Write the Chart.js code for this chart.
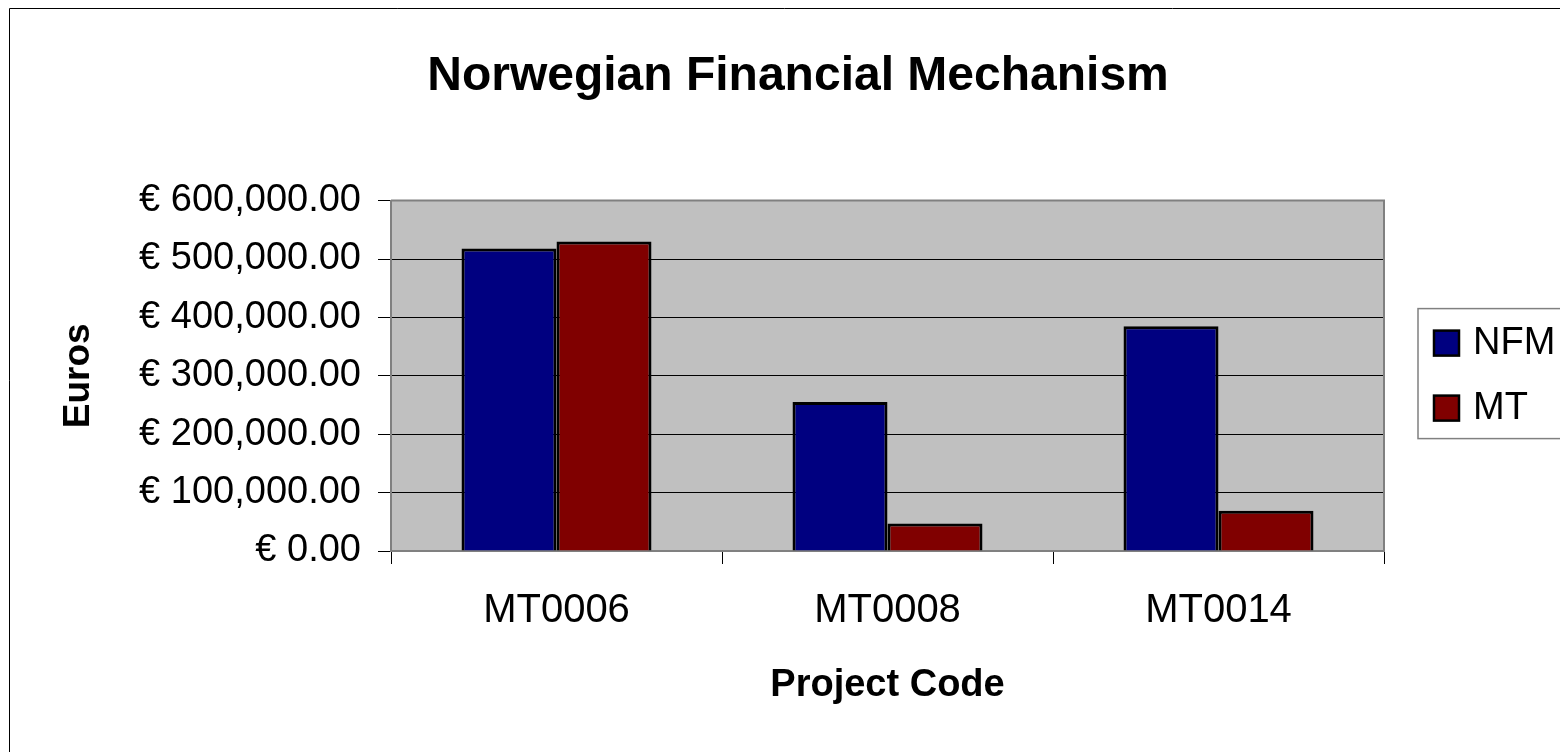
<!DOCTYPE html>
<html>
<head>
<meta charset="utf-8">
<script src="https://cdn.jsdelivr.net/npm/chart.js@4"></script>
<style>
  html, body { margin: 0; padding: 0; background: #fff; }
  #wrap { width: 1560px; height: 752px; }
</style>
</head>
<body>
<div id="wrap"><canvas id="chart" width="1560" height="752"></canvas></div>
<script>
// chart values
const categories = ["MT0006", "MT0008", "MT0014"];
const nfmValues = [518000, 255000, 385000];
const mtValues = [530000, 47000, 69000];
const yTicks = [0, 100000, 200000, 300000, 400000, 500000, 600000];

const FONT = "'Liberation Sans', Arial, sans-serif";
Chart.defaults.font.family = FONT;
Chart.defaults.color = "#000";

function euro(v) {
  return "€ " + v.toLocaleString("en-US", { minimumFractionDigits: 2, maximumFractionDigits: 2 });
}

// grey plot background + frame, outer chart border, boxed legend
const frame = {
  id: "frame",
  beforeDraw(chart) {
    const { ctx, chartArea: a } = chart;
    ctx.save();
    ctx.fillStyle = "#C0C0C0";
    ctx.fillRect(a.left, a.top, a.right - a.left, a.bottom - a.top);
    ctx.restore();
  },
  afterDraw(chart) {
    const { ctx, chartArea: a } = chart;
    ctx.save();
    // plot frame
    ctx.strokeStyle = "#808080";
    ctx.lineWidth = 2;
    ctx.beginPath();
    ctx.moveTo(a.left, a.top);
    ctx.lineTo(a.right, a.top);
    ctx.lineTo(a.right, a.bottom);
    ctx.stroke();
    // outer border
    ctx.strokeStyle = "#000";
    ctx.lineWidth = 1;
    ctx.beginPath();
    ctx.moveTo(9.5, 752);
    ctx.lineTo(9.5, 8.5);
    ctx.lineTo(1560, 8.5);
    ctx.stroke();
    // legend
    const lx = a.right + 34, ly = a.top + 108, lh = 130;
    ctx.strokeStyle = "#808080";
    ctx.lineWidth = 1.5;
    ctx.strokeRect(lx, ly, 1600 - lx, lh);
    ctx.font = "38px " + FONT;
    ctx.textBaseline = "middle";
    ctx.textAlign = "left";
    chart.data.datasets.forEach((ds, i) => {
      const cy = ly + 34 + i * 65;
      ctx.fillStyle = ds.backgroundColor;
      ctx.fillRect(lx + 16, cy - 12, 25, 25);
      ctx.strokeStyle = "#000";
      ctx.lineWidth = 2.5;
      ctx.strokeRect(lx + 16, cy - 12, 25, 25);
      ctx.fillStyle = "#000";
      ctx.fillText(ds.label, lx + 55, cy + 1);
    });
    ctx.restore();
  }
};

new Chart(document.getElementById("chart"), {
  type: "bar",
  data: {
    labels: categories,
    datasets: [
      { label: "NFM", data: nfmValues, backgroundColor: "#000080", borderColor: "#000", borderWidth: 3 },
      { label: "MT", data: mtValues, backgroundColor: "#800000", borderColor: "#000", borderWidth: 3 }
    ]
  },
  options: {
    responsive: false,
    animation: false,
    devicePixelRatio: 1,
    categoryPercentage: 0.574,
    barPercentage: 1.0,
    layout: { padding: { left: 36, right: 0, top: 0, bottom: 0 } },
    plugins: {
      legend: { display: false },
      tooltip: { enabled: false },
      title: {
        display: true,
        text: "Norwegian Financial Mechanism",
        color: "#000",
        font: { size: 48, weight: "bold" },
        padding: { top: 48, bottom: 95 }
      }
    },
    scales: {
      x: {
        offset: true,
        grid: { offset: true, drawOnChartArea: false, drawTicks: true, tickLength: 13, color: "#000", lineWidth: 1 },
        border: { display: true, color: "#808080", width: 2 },
        ticks: { font: { size: 40 }, padding: 23, color: "#000" },
        title: { display: true, text: "Project Code", font: { size: 38, weight: "bold" }, color: "#000", padding: { top: 0, bottom: 44 } },
        afterFit(scale) { scale.height = 201; }
      },
      y: {
        min: 0,
        max: 600000,
        afterBuildTicks(scale) { scale.ticks = yTicks.map(v => ({ value: v })); },
        grid: { color: "#000", lineWidth: 1, drawTicks: true, tickLength: 13, tickColor: "#000" },
        border: { display: true, color: "#808080", width: 2 },
        ticks: { font: { size: 38 }, padding: 17, color: "#000", callback: v => euro(v) },
        title: { display: true, text: "Euros", font: { size: 37, weight: "bold" }, color: "#000", padding: { top: 21, bottom: 0 } },
        afterFit(scale) { scale.width = 355; }
      },
      spacer: {
        type: "linear",
        position: "right",
        display: true,
        grid: { display: false },
        border: { display: false },
        ticks: { display: false },
        afterFit(scale) { scale.width = 176; }
      }
    }
  },
  plugins: [frame]
});
</script>
</body>
</html>
